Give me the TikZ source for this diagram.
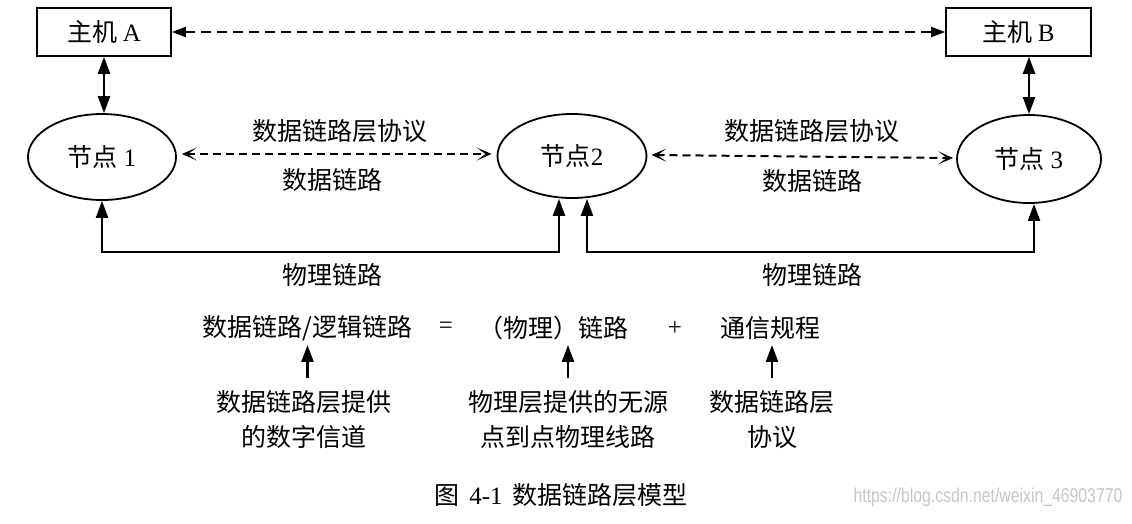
\documentclass[tikz,border=0pt]{standalone}
\usepackage{fontspec}
\usepackage{graphicx}
\setmainfont{Liberation Serif}
\newfontfamily\cjk{Noto Sans CJK SC}
\newfontfamily\wmfont{Liberation Sans}
\usetikzlibrary{shapes.geometric,arrows.meta}
\newcommand\lat[1]{{\rmfamily #1}}
\begin{document}
\begin{tikzpicture}[x=1pt,y=-1pt,
  txt/.style={font=\fontsize{25}{35}\selectfont\cjk, inner sep=0pt, align=center},
  hostbox/.style={draw, line width=1.7pt, minimum height=48pt, inner sep=0pt,
    font=\fontsize{25}{30}\selectfont\cjk},
  nodeell/.style={draw, ellipse, line width=1.8pt, inner sep=0pt,
    font=\fontsize{25}{30}\selectfont\cjk},
  solidtip/.tip={Triangle[length=17pt,width=12pt]},
  dashtip/.tip={Triangle[length=14pt,width=10pt]},
  barbtip/.tip={Stealth[length=15pt,width=13pt,inset=9pt]},
  solidline/.style={line width=2.2pt},
  hostdash/.style={line width=2pt, dash pattern=on 10pt off 6pt, {dashtip}-{dashtip}},
  nodedash/.style={line width=2pt, dash pattern=on 8pt off 5pt, {barbtip}-{barbtip}},
  wm/.style={inner sep=0pt, text=gray!45}
]
\useasboundingbox (0,0) rectangle (1132,523);
\fill[white] (0,0) rectangle (1132,523);

% hosts
\node[hostbox, minimum width=134pt] (hA) at (104,32) {主机 \lat{A}};
\node[hostbox, minimum width=145pt] (hB) at (1018.5,32) {主机 \lat{B}};

% nodes
\node[nodeell, minimum width=148pt, minimum height=86pt] (n1) at (102,157) {节点 \lat{1}};
\node[nodeell, minimum width=149pt, minimum height=84pt] (n2) at (572,156) {节点\lat{2}};
\node[nodeell, minimum width=144pt, minimum height=88pt] (n3) at (1029,159) {节点 \lat{3}};

% host-to-host
\draw[hostdash] (hA.east) -- (hB.west);

% host-node
\draw[solidline, {solidtip}-{solidtip}] (hA.south) -- (hA.south |- n1.north);
\draw[solidline, {solidtip}-{solidtip}] (n3.north |- hB.south) -- (n3.north);

% data links
\draw[nodedash] ([shift={(5,-3)}]n1.east) -- ([shift={(-5,-2)}]n2.west);
\draw[nodedash] ([shift={(4,-1)}]n2.east) -- ([shift={(-3,-1)}]n3.west);

\node[txt] (p1) at (340,131) {数据链路层协议};
\node[txt] (d1) at (332,180) {数据链路};
\node[txt] (p2) at (812,131) {数据链路层协议};
\node[txt] (d2) at (812,181) {数据链路};

% physical links
\coordinate (c1) at (102,252);
\coordinate (c2) at (559,252);
\coordinate (c3) at (587,252);
\coordinate (c4) at (1034,252);
\draw[solidline, {solidtip}-{solidtip}, line join=miter] (n1.south) -- (c1) -- (c2) -- (c2 |- n2.south);
\draw[solidline, {solidtip}-{solidtip}, line join=miter] (c3 |- n2.south) -- (c3) -- (c4) -- (c4 |- n3.south);

\node[txt] (ph1) at (332,275) {物理链路};
\node[txt] (ph2) at (812,275) {物理链路};

% equation row
\node[txt] (t1) at (307.5,328) {数据链路/逻辑链路};
\node[txt] (eq) at (446,328) {\lat{=}};
\node[txt] (t2) at (553,328) {（物理）链路};
\node[txt] (pl) at (675,328) {\lat{+}};
\node[txt] (t3) at (770,328) {通信规程};

\node[txt] (s1) at (304,419.5) {数据链路层提供\\的数字信道};
\node[txt] (s2) at (568,419.5) {物理层提供的无源\\点到点物理线路};
\node[txt] (s3) at (772,419.5) {数据链路层\\协议};

\draw[solidline, line width=2.6pt, -{solidtip}] ([yshift=12.5pt]s1.north -| t1.south) -- ([yshift=-4pt]t1.south);
\draw[solidline, line width=2.6pt, -{solidtip}] ([yshift=12.5pt]s2.north) -- ([yshift=-4pt]t1.south -| s2.north);
\draw[solidline, line width=2.6pt, -{solidtip}] ([yshift=12.5pt]s3.north) -- ([yshift=-4pt]t1.south -| s3.north);

% caption
\node[txt] (cap) at (561,495) {图\hspace{0.4em}\lat{4-1}\hspace{0.4em}数据链路层模型};

% watermark
\node[wm] (wmk) at (988,497) {\wmfont\fontsize{20}{24}\selectfont\scalebox{0.79}[1]{https://blog.csdn.net/weixin\_46903770}};
\end{tikzpicture}
\end{document}
